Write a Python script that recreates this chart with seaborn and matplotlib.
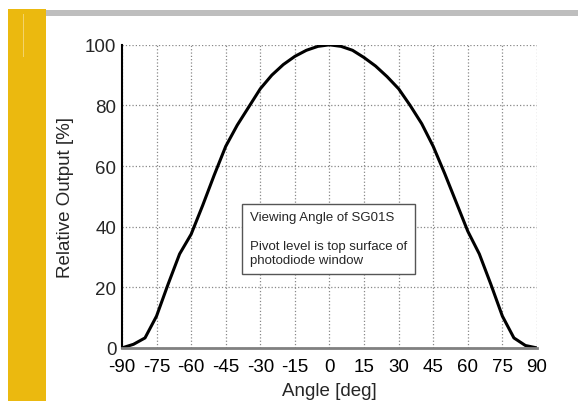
import numpy as np
import pandas as pd
import matplotlib
matplotlib.use("Agg")
import matplotlib.pyplot as plt
import seaborn as sns
from matplotlib.patches import Rectangle
from matplotlib.ticker import MultipleLocator

# viewing angle profile
angle = [-90, -85, -80, -75, -70, -65, -60, -55, -50, -45, -40, -35, -30, -25, -20,
         -15, -10, -5, 0, 5, 10, 15, 20, 25, 30, 35, 40, 45, 50, 55, 60, 65, 70, 75,
         80, 85, 90]
output = [0, 1.2, 3.3, 10.5, 21, 31, 37.5, 47, 57, 66.5, 73.5, 79.5, 85.5, 90, 93.5,
          96.2, 98.2, 99.5, 100, 99.5, 98.2, 95.8, 93, 89.5, 85.5, 80, 74, 66.5, 57.5,
          48, 38.5, 31, 21, 10.5, 3.3, 0.8, 0]
xticks = list(range(-90, 91, 15))
yticks = [0, 20, 40, 60, 80, 100]

df = pd.DataFrame({'angle': angle, 'output': output})

sns.set_style('white')
plt.rcParams['font.family'] = ['Liberation Sans', 'DejaVu Sans']

fig = plt.figure(figsize=(5.78, 4.02), dpi=100)
ax = fig.add_axes([0.211, 0.132, 0.718, 0.754])

# slide decoration
fig.add_artist(Rectangle((46 / 578, 1 - 16.5 / 402), 1, 5.5 / 402,
                         transform=fig.transFigure, color='#BEBEBE', lw=0))
fig.add_artist(Rectangle((8 / 578, 0), 38 / 578, 1 - 9.5 / 402,
                         transform=fig.transFigure, color='#EBB90F', lw=0))
fig.add_artist(Rectangle((22.5 / 578, 1 - 58 / 402), 1 / 578, 43 / 402,
                         transform=fig.transFigure, color='#F3D36A', lw=0))

sns.lineplot(data=df, x='angle', y='output', ax=ax, color='black', linewidth=2.2)

ax.set_xlim(-90, 90)
ax.set_ylim(0, 100)
ax.set_xticks(xticks)
ax.set_xticklabels([str(t) for t in xticks])
ax.set_yticks(yticks)
ax.xaxis.set_minor_locator(MultipleLocator(7.5))
ax.yaxis.set_minor_locator(MultipleLocator(10))
ax.tick_params(axis='both', which='major', direction='in', length=5, width=1,
               labelsize=13.5)
ax.tick_params(axis='x', which='major', pad=7)
ax.tick_params(axis='y', which='major', pad=4)
ax.tick_params(axis='both', which='minor', direction='in', length=3, width=1)
ax.tick_params(axis='x', which='both', colors='#555555', labelcolor='black')

ax.grid(True, which='major', linestyle=':', color='#888888', linewidth=0.9)
for s in ['top', 'right']:
    ax.spines[s].set_visible(False)
ax.spines['left'].set_color('black')
ax.spines['left'].set_linewidth(1.5)
ax.spines['bottom'].set_color('#808080')
ax.spines['bottom'].set_linewidth(2)

ax.set_xlabel('Angle [deg]', fontsize=13.5, labelpad=5)
ax.set_ylabel('Relative Output [%]', fontsize=13.5, labelpad=8)

ax.text(0.308, 0.36, 'Viewing Angle of SG01S\n\nPivot level is top surface of\nphotodiode window',
        transform=ax.transAxes, fontsize=9.5, va='center', ha='left', linespacing=1.25,
        bbox=dict(boxstyle='square,pad=0.6', facecolor='white', edgecolor='#555555', linewidth=1))

fig.savefig('out.png', dpi=100)
